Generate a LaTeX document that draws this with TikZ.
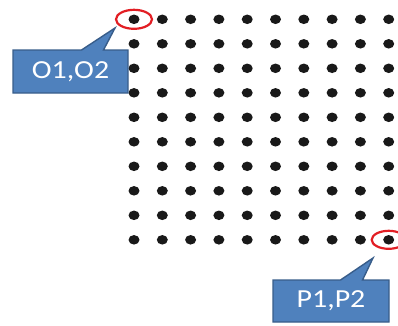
\documentclass[tikz,border=0pt]{standalone}
\usepackage{fontspec}
\newfontfamily\calloutfont[FakeStretch=1.15]{Carlito}
\usetikzlibrary{shapes.callouts, shapes.geometric}
\definecolor{calloutblue}{RGB}{79,129,189}
\definecolor{calloutborder}{RGB}{56,93,138}
\definecolor{ringred}{RGB}{226,30,36}

\begin{document}
\begin{tikzpicture}[x=1pt, y=-1pt, thick]
        \useasboundingbox (0,0) rectangle (398,325);

        % Grid of points
        \foreach \r in {0,...,9} {
            \foreach \c in {0,...,9} {
                \node (d\r\c) [ellipse, fill=black!90, inner sep=0pt, minimum width=11pt, minimum height=9.5pt] at (134+28.3*\c, 19.3+24.5*\r) {};
            }
        }

        % Rings
        \node (ringo) [draw=ringred, ellipse, line width=2.2pt, inner sep=0pt, minimum width=36pt, minimum height=19pt] at (d00) {};
        \node (ringp) [draw=ringred, ellipse, line width=2.2pt, inner sep=0pt, minimum width=34pt, minimum height=18pt] at (d99) {};

        % Pointer tips
        \coordinate (tipo) at (115,28);
        \coordinate (tipp) at (373,258);

        % Callouts
        \node (labelo) [rectangle callout, draw=calloutborder, fill=calloutblue, line width=1.4pt, minimum width=115pt, minimum height=43pt, callout pointer width=22pt, callout absolute pointer={(tipo)}, text=white, font=\calloutfont\fontsize{26}{26}\selectfont] at (70.5,71.5) {O1,O2};
        \node (labelp) [rectangle callout, draw=calloutborder, fill=calloutblue, line width=1.4pt, minimum width=116pt, minimum height=42pt, callout pointer width=22pt, callout absolute pointer={(tipp)}, text=white, font=\calloutfont\fontsize{26}{26}\selectfont] at (331,301) {P1,P2};
\end{tikzpicture}
\end{document}
